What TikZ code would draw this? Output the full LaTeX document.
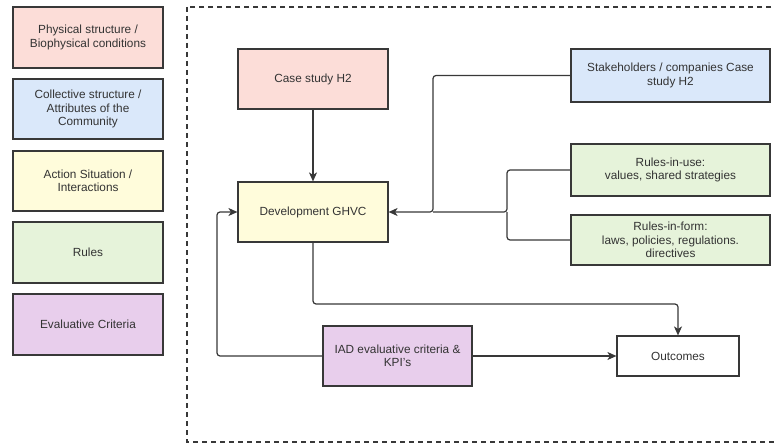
\documentclass[tikz,border=0pt]{standalone}
\usepackage{fontspec}
\setmainfont{Liberation Sans}
\usetikzlibrary{arrows.meta}
\definecolor{edge}{HTML}{383838}
\definecolor{ink}{HTML}{333333}
\definecolor{cpink}{HTML}{FCDDD8}
\definecolor{cblue}{HTML}{DAE8FA}
\definecolor{cyellow}{HTML}{FFFCDB}
\definecolor{cgreen}{HTML}{E6F3DA}
\definecolor{cpurple}{HTML}{E8CEEC}
\tikzset{
  box/.style={draw=edge, line width=1.2pt, align=center, text=ink,
    font=\fontsize{11.8}{13.4}\selectfont, inner sep=2pt},
  legend/.style={box, minimum width=150pt},
  link/.style={draw=edge, line width=1.2pt, rounded corners=3pt},
  arr/.style={link, -{Stealth[length=9pt,width=8pt,inset=2.5pt]}}
}
\begin{document}
\begin{tikzpicture}[x=1pt,y=-1pt]
\useasboundingbox (0,0) rectangle (774,444);
\fill[white] (0,0) rectangle (774,444);

% legend column
\node[legend, fill=cpink,   minimum height=61pt] (l1) at (88,37.5) {Physical structure /\\Biophysical conditions};
\node[legend, fill=cblue,   minimum height=60pt] (l2) at (88,109) {Collective structure /\\Attributes of the\\Community};
\node[legend, fill=cyellow, minimum height=60pt] (l3) at (88,181) {Action Situation /\\Interactions};
\node[legend, fill=cgreen,  minimum height=61pt] (l4) at (88,252.5) {Rules};
\node[legend, fill=cpurple, minimum height=61pt] (l5) at (88,324.5) {Evaluative Criteria};

% dashed frame around the framework
\begin{scope}
\clip (0,0) rectangle (774,444);
\draw[edge, line width=1.2pt, dash pattern=on 5pt off 4pt] (187,7) rectangle (800,442);
\end{scope}

% framework boxes
\node[box, fill=cpink,   minimum width=150pt, minimum height=60pt] (case) at (313,79) {Case study H2};
\node[box, fill=cyellow, minimum width=150pt, minimum height=60pt] (dev) at (313,212) {Development GHVC};
\node[box, fill=cblue,   minimum width=199pt, minimum height=53pt] (stake) at (670.5,75.5) {Stakeholders / companies Case\\study H2};
\node[box, fill=cgreen,  minimum width=199pt, minimum height=52pt] (use) at (670.5,170) {Rules-in-use:\\values, shared strategies};
\node[box, fill=cgreen,  minimum width=199pt, minimum height=50pt] (form) at (670.5,240) {Rules-in-form:\\laws, policies, regulations.\\directives};
\node[box, fill=cpurple, minimum width=149pt, minimum height=60pt] (iad) at (397.5,356) {IAD evaluative criteria \&\\KPI's};
\node[box, fill=white,   minimum width=122pt, minimum height=40pt] (out) at (678,356) {Outcomes};

% junction points
\coordinate (j1) at (433,212);
\coordinate (j2) at (507,212);

% connectors
\draw[arr] (case.south) -- (dev.north);
\draw[arr] (stake.west) -- (433,75.5) -- (j1) -- (dev.east);
\draw[link] (use.west) -- (507,170) -- (j2) -- (j1);
\draw[link] (form.west) -- (507,240) -- (j2);
\draw[arr] (dev.south) -- (313,304) -- (678,304) -- (out.north);
\draw[arr] (iad.east) -- (out.west);
\draw[arr] (iad.west) -- (217,356) -- (217,212) -- (dev.west);
\end{tikzpicture}
\end{document}
